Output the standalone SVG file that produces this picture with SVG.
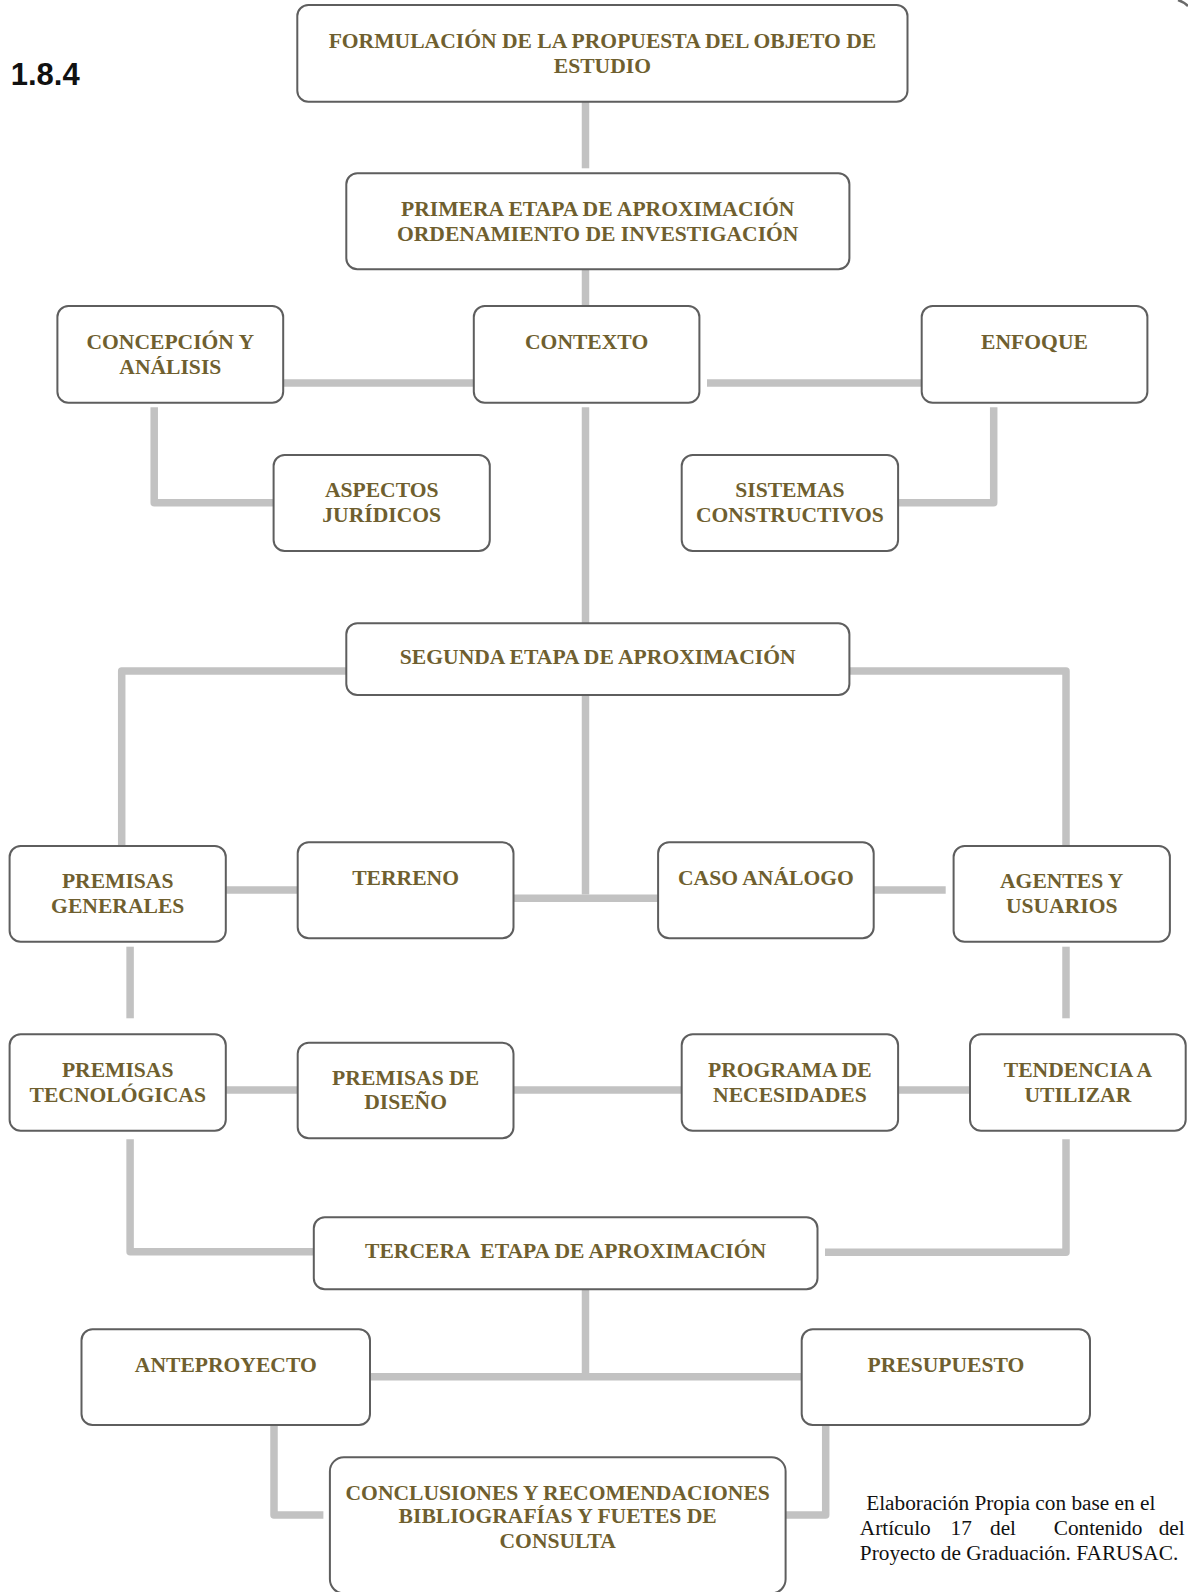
<svg xmlns="http://www.w3.org/2000/svg" width="1188" height="1592" viewBox="0 0 1188 1592">
<style>
.box{fill:#ffffff;stroke:#5e5e5e;stroke-width:2}
.lbl{font-family:"Liberation Serif","Times New Roman",serif;font-weight:bold;font-size:21.6px;fill:#6f5f2f;text-anchor:middle}
.conn{fill:none;stroke:#c2c2c2;stroke-width:7.5;stroke-linejoin:round}
.cap{font-family:"Liberation Serif","Times New Roman",serif;font-size:21.3px;fill:#111111}
</style>
<rect width="1188" height="1592" fill="#ffffff"/>
<text x="10.7" y="85" font-family="Liberation Sans, Arial, sans-serif" font-weight="bold" font-size="31" fill="#111111">1.8.4</text>
<path d="M1178,0 Q1184,2 1188,6" fill="none" stroke="#6a6a6a" stroke-width="2.5"/>
<g id="connectors">
<path class="conn" d="M585.5,101.7 V168.3"/>
<path class="conn" d="M585.5,269.3 V306"/>
<path class="conn" d="M283,383 H474"/>
<path class="conn" d="M707,383 H922"/>
<path class="conn" d="M154.2,407.3 V502.7 H275.5"/>
<path class="conn" d="M993.7,407.3 V502.7 H896.2"/>
<path class="conn" d="M585.5,407.3 V623.3"/>
<path class="conn" d="M348,671 H121.7 V845"/>
<path class="conn" d="M849.4,671 H1066 V847.3"/>
<path class="conn" d="M585.5,695 V894.5"/>
<path class="conn" d="M513.5,898.3 H658.1"/>
<path class="conn" d="M225.8,890 H297.7"/>
<path class="conn" d="M873.7,890 H945.7"/>
<path class="conn" d="M130.1,946.7 V1018.3"/>
<path class="conn" d="M1066,946.7 V1018.3"/>
<path class="conn" d="M225.8,1090 H297.7"/>
<path class="conn" d="M513.5,1090 H681.7"/>
<path class="conn" d="M898.1,1090 H969.3"/>
<path class="conn" d="M130.1,1139.3 V1251.7 H313.8"/>
<path class="conn" d="M1066,1139.3 V1252.3 H825"/>
<path class="conn" d="M585.5,1289.3 V1376.7"/>
<path class="conn" d="M370,1376.7 H801.7"/>
<path class="conn" d="M274,1425 V1515 H323.4"/>
<path class="conn" d="M825.7,1425 V1515 H785.6"/>
</g>
<g id="formulacion"><rect class="box" x="297.3" y="5" width="610.2" height="96.7" rx="11"/>
<text class="lbl" x="602.4" y="48.3">FORMULACIÓN DE LA PROPUESTA DEL OBJETO DE</text>
<text class="lbl" x="602.4" y="72.7">ESTUDIO</text></g>
<g id="primera"><rect class="box" x="346.3" y="173.3" width="503.1" height="96" rx="11"/>
<text class="lbl" x="597.7" y="216">PRIMERA ETAPA DE APROXIMACIÓN</text>
<text class="lbl" x="597.7" y="240.7">ORDENAMIENTO DE INVESTIGACIÓN</text></g>
<g id="concepcion"><rect class="box" x="57.4" y="306" width="225.8" height="96.7" rx="11"/>
<text class="lbl" x="170.3" y="349.3">CONCEPCIÓN Y</text>
<text class="lbl" x="170.3" y="374">ANÁLISIS</text></g>
<g id="contexto"><rect class="box" x="473.8" y="306" width="225.6" height="96.7" rx="11"/>
<text class="lbl" x="586.6" y="349.3">CONTEXTO</text></g>
<g id="enfoque"><rect class="box" x="921.7" y="306" width="225.7" height="96.7" rx="11"/>
<text class="lbl" x="1034.5" y="349.3">ENFOQUE</text></g>
<g id="aspectos"><rect class="box" x="273.6" y="455" width="216.2" height="96" rx="11"/>
<text class="lbl" x="381.7" y="497.3">ASPECTOS</text>
<text class="lbl" x="381.7" y="521.7">JURÍDICOS</text></g>
<g id="sistemas"><rect class="box" x="681.7" y="455" width="216.4" height="96" rx="11"/>
<text class="lbl" x="789.9" y="497.3">SISTEMAS</text>
<text class="lbl" x="789.9" y="521.7">CONSTRUCTIVOS</text></g>
<g id="segunda"><rect class="box" x="346.3" y="623.3" width="503.1" height="71.7" rx="11"/>
<text class="lbl" x="597.7" y="664">SEGUNDA ETAPA DE APROXIMACIÓN</text></g>
<g id="premisas-generales"><rect class="box" x="9.6" y="846" width="216.2" height="95.7" rx="11"/>
<text class="lbl" x="117.7" y="888.3">PREMISAS</text>
<text class="lbl" x="117.7" y="912.7">GENERALES</text></g>
<g id="terreno"><rect class="box" x="297.7" y="842.3" width="215.8" height="96" rx="11"/>
<text class="lbl" x="405.6" y="885">TERRENO</text></g>
<g id="caso-analogo"><rect class="box" x="658.1" y="842.3" width="215.6" height="96" rx="11"/>
<text class="lbl" x="765.9" y="885">CASO ANÁLOGO</text></g>
<g id="agentes"><rect class="box" x="953.6" y="846" width="216.3" height="95.7" rx="11"/>
<text class="lbl" x="1061.7" y="888.3">AGENTES Y</text>
<text class="lbl" x="1061.7" y="912.7">USUARIOS</text></g>
<g id="premisas-tecnologicas"><rect class="box" x="9.6" y="1034.3" width="216.2" height="96.4" rx="11"/>
<text class="lbl" x="117.7" y="1076.7">PREMISAS</text>
<text class="lbl" x="117.7" y="1101.7">TECNOLÓGICAS</text></g>
<g id="premisas-diseno"><rect class="box" x="297.7" y="1042.7" width="215.8" height="95.6" rx="11"/>
<text class="lbl" x="405.6" y="1085">PREMISAS DE</text>
<text class="lbl" x="405.6" y="1109.3">DISEÑO</text></g>
<g id="programa"><rect class="box" x="681.7" y="1034.3" width="216.4" height="96.4" rx="11"/>
<text class="lbl" x="789.9" y="1076.7">PROGRAMA DE</text>
<text class="lbl" x="789.9" y="1101.7">NECESIDADES</text></g>
<g id="tendencia"><rect class="box" x="970" y="1034.3" width="215.7" height="96.4" rx="11"/>
<text class="lbl" x="1077.9" y="1076.7">TENDENCIA A</text>
<text class="lbl" x="1077.9" y="1101.7">UTILIZAR</text></g>
<g id="tercera"><rect class="box" x="313.8" y="1217.3" width="503.7" height="72" rx="11"/>
<text class="lbl" x="565.6" y="1258.3" style="white-space:pre">TERCERA  ETAPA DE APROXIMACIÓN</text></g>
<g id="anteproyecto"><rect class="box" x="81.5" y="1329.3" width="288.5" height="95.7" rx="11"/>
<text class="lbl" x="225.8" y="1371.7">ANTEPROYECTO</text></g>
<g id="presupuesto"><rect class="box" x="801.7" y="1329.3" width="288.3" height="95.7" rx="11"/>
<text class="lbl" x="945.9" y="1371.7">PRESUPUESTO</text></g>
<g id="conclusiones"><rect class="box" x="329.9" y="1457.3" width="455.7" height="136" rx="14"/>
<text class="lbl" x="557.7" y="1500">CONCLUSIONES Y RECOMENDACIONES</text>
<text class="lbl" x="557.7" y="1523.3">BIBLIOGRAFÍAS Y FUETES DE</text>
<text class="lbl" x="557.7" y="1548.3">CONSULTA</text></g>
<g id="caption">
<text class="cap" x="866.2" y="1510">Elaboración Propia con base en el</text>
<text class="cap" y="1535"><tspan x="859.8">Artículo</tspan><tspan x="950.6">17</tspan><tspan x="990">del</tspan><tspan x="1053.7">Contenido</tspan><tspan x="1158.7">del</tspan></text>
<text class="cap" x="859.8" y="1560">Proyecto de Graduación. FARUSAC.</text>
</g>
</svg>
